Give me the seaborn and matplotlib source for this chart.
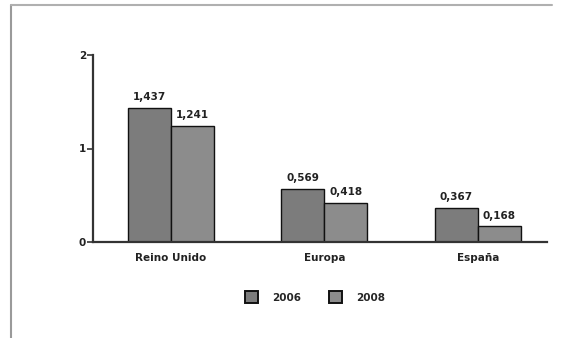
import matplotlib
matplotlib.use("Agg")
import matplotlib.pyplot as plt
from matplotlib.lines import Line2D
from matplotlib.patches import Patch
import seaborn as sns
import pandas as pd

categories = ["Reino Unido", "Europa", "España"]
years = ["2006", "2008"]
values_2006 = [1.437, 0.569, 0.367]
values_2008 = [1.241, 0.418, 0.168]
y_ticks = [0, 1, 2]

sns.set_theme(style="white")
plt.rcParams["font.family"] = ["DejaVu Sans"]

df = pd.DataFrame({
    "region": categories * 2,
    "year": [years[0]] * 3 + [years[1]] * 3,
    "value": values_2006 + values_2008,
})

fig = plt.figure(figsize=(5.73, 3.38), dpi=100)
ax = fig.add_axes([93 / 573, 1 - 242 / 338, (547 - 93) / 573, (242 - 55) / 338])

palette = {"2006": "#7c7c7c", "2008": "#8c8c8c"}
sns.barplot(data=df, x="region", y="value", hue="year", order=categories,
            hue_order=years, palette=palette, width=0.56, saturation=1,
            edgecolor="#111111", linewidth=1.0, legend=False, ax=ax)

for container, vals in zip(ax.containers, [values_2006, values_2008]):
    labels = [f"{v:.3f}".replace(".", ",") for v in vals]
    ax.bar_label(container, labels=labels, padding=4, fontsize=7.5,
                 fontweight="bold", color="#222222")

ax.set_xlim(-0.508, 2.45)
ax.set_ylim(0, 2)
ax.set_yticks(y_ticks)
ax.set_yticklabels([str(t) for t in y_ticks])
ax.set_xlabel("")
ax.set_ylabel("")

for side in ["top", "right"]:
    ax.spines[side].set_visible(False)
for side in ["left", "bottom"]:
    ax.spines[side].set_color("#333333")
    ax.spines[side].set_linewidth(1.6)

ax.tick_params(axis="y", left=True, length=4, width=1.2, color="#333333",
               pad=1, labelsize=7.5, labelcolor="#222222")
ax.tick_params(axis="x", bottom=False, pad=2, labelsize=7.5, labelcolor="#222222")
for lbl in ax.get_xticklabels() + ax.get_yticklabels():
    lbl.set_fontweight("bold")

handles = [Patch(facecolor=palette[y], edgecolor="#111111", linewidth=1.4, label=y)
           for y in years]
fig.legend(handles=handles, loc="center", bbox_to_anchor=(315 / 573, 1 - 297 / 338),
           ncol=2, frameon=False, handlelength=1.25, handleheight=1.25,
           handletextpad=1.4, columnspacing=2.6,
           prop={"weight": "bold", "size": 7.5})

# page frame lines on the left and top edges
fig.add_artist(Line2D([11 / 573, 11 / 573], [0, 1 - 5 / 338], transform=fig.transFigure,
                      color="#9a9a9a", linewidth=1.5))
fig.add_artist(Line2D([11 / 573, 552 / 573], [1 - 5 / 338, 1 - 5 / 338],
                      transform=fig.transFigure, color="#b0b0b0", linewidth=1.5))

fig.savefig("out.png", dpi=100, facecolor="white")
